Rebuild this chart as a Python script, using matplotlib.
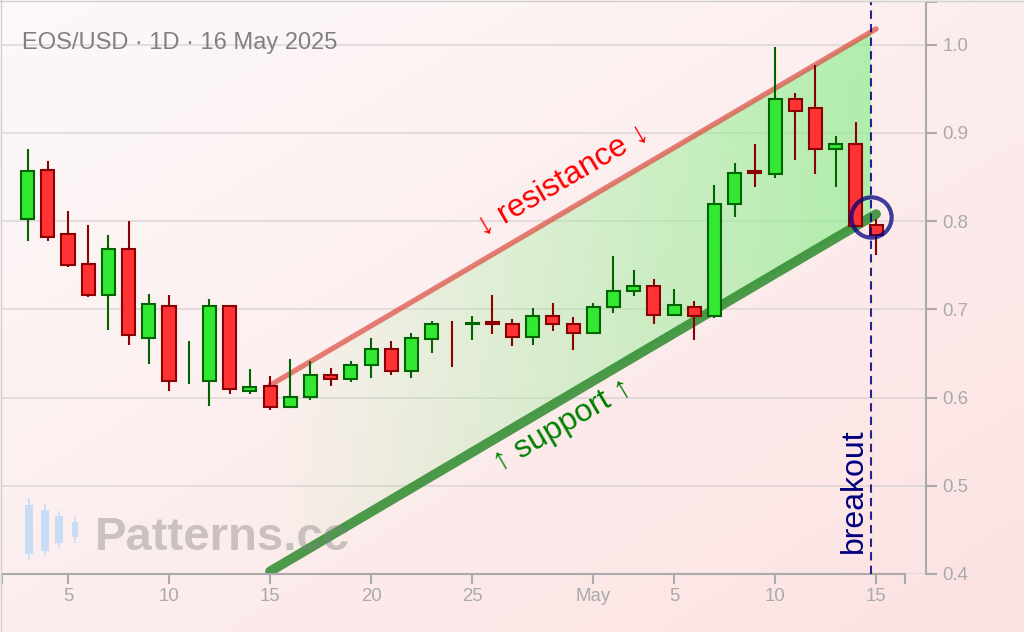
import numpy as np
import pandas as pd
import matplotlib
matplotlib.use("Agg")
import matplotlib.pyplot as plt
import matplotlib.dates as mdates
from matplotlib.patches import Polygon
from matplotlib.ticker import FuncFormatter

W, H, DPI = 1024, 632, 100
FONT = ["Liberation Sans", "DejaVu Sans"]
plt.rcParams["font.family"] = FONT

# daily EOS/USD candles, 3 Apr - 15 May 2025
dates = pd.date_range("2025-04-03", "2025-05-15", freq="D")
opens = [0.803, 0.858, 0.785, 0.751, 0.716, 0.769, 0.668, 0.704, 0.640, 0.619,
         0.704, 0.607, 0.613, 0.589, 0.601, 0.626, 0.621, 0.637, 0.655, 0.630,
         0.666, 0.660, 0.683, 0.686, 0.683, 0.669, 0.692, 0.683, 0.673, 0.703,
         0.721, 0.726, 0.694, 0.703, 0.692, 0.819, 0.857, 0.854, 0.939, 0.928,
         0.882, 0.887, 0.796]
highs = [0.882, 0.868, 0.812, 0.796, 0.784, 0.800, 0.718, 0.716, 0.664, 0.712,
         0.705, 0.632, 0.625, 0.644, 0.641, 0.634, 0.641, 0.668, 0.664, 0.673,
         0.687, 0.687, 0.693, 0.716, 0.689, 0.702, 0.707, 0.691, 0.707, 0.761,
         0.745, 0.734, 0.723, 0.710, 0.841, 0.866, 0.888, 0.997, 0.945, 0.977,
         0.897, 0.913, 0.803]
lows = [0.778, 0.778, 0.748, 0.714, 0.677, 0.660, 0.638, 0.608, 0.615, 0.590,
        0.604, 0.604, 0.586, 0.588, 0.597, 0.613, 0.618, 0.622, 0.626, 0.622,
        0.651, 0.635, 0.665, 0.672, 0.658, 0.660, 0.676, 0.654, 0.672, 0.696,
        0.715, 0.683, 0.692, 0.665, 0.690, 0.805, 0.839, 0.849, 0.869, 0.853,
        0.839, 0.794, 0.762]
closes = [0.857, 0.782, 0.750, 0.716, 0.769, 0.671, 0.706, 0.619, 0.6402, 0.704,
          0.610, 0.612, 0.589, 0.601, 0.626, 0.621, 0.637, 0.655, 0.630, 0.667,
          0.683, 0.6598, 0.685, 0.684, 0.669, 0.692, 0.683, 0.673, 0.703, 0.721,
          0.726, 0.694, 0.705, 0.692, 0.819, 0.855, 0.855, 0.939, 0.925, 0.882,
          0.887, 0.795, 0.784]

channel_dates = ["2025-04-15", "2025-05-15"]
resistance = [0.614, 1.018]
support = [0.403, 0.808]
breakout_date = "2025-05-14 18:00"

title = "EOS/USD · 1D · 16 May 2025"
yticks = [0.4, 0.5, 0.6, 0.7, 0.8, 0.9, 1.0]

# watermark logo candles (figure pixels): x, body top, body bottom, wick top, wick bottom, width
logo = [(29, 505, 554, 498, 560, 8), (45, 510, 551, 504, 556, 8),
        (59, 516, 543, 511, 548, 8), (75, 522, 537, 516, 543, 6)]

fig = plt.figure(figsize=(W / DPI, H / DPI), dpi=DPI)

# pink diagonal background
bg = fig.add_axes([0, 0, 1, 1], zorder=0)
gx, gy = np.meshgrid(np.linspace(0, 1, 128), np.linspace(0, 1, 128))
t = (gx + gy) / 2
c0 = np.array([253, 249, 249]) / 255
c1 = np.array([252, 226, 226]) / 255
bg.imshow(c0 + t[..., None] * (c1 - c0), extent=(0, 1, 0, 1), aspect="auto", origin="upper")
bg.axis("off")

ax = fig.add_axes([2 / W, 58 / H, 924 / W, 572 / H], zorder=1)
ax.patch.set_alpha(0)

x = mdates.date2num(dates)
base = mdates.date2num(pd.Timestamp("2025-04-01"))
ch_x = mdates.date2num(pd.to_datetime(channel_dates))
bx = mdates.date2num(pd.Timestamp(breakout_date))
o, h, l, c = map(np.asarray, (opens, highs, lows, closes))

# gradient channel fill, clipped to the channel
sup_b = np.interp(bx, ch_x, support)
res_b = np.interp(bx, ch_x, resistance)
poly = Polygon([(ch_x[0], support[0]), (bx, sup_b), (bx, res_b), (ch_x[0], resistance[0])],
               closed=True, transform=ax.transData, facecolor="none", edgecolor="none")
ax.add_patch(poly)
grad = np.zeros((2, 256, 4))
grad[..., :3] = np.array([144, 238, 144]) / 255
grad[..., 3] = np.linspace(0.0, 0.7, 256)
im = ax.imshow(grad, extent=(ch_x[0], bx, 0.4, 1.05), aspect="auto", origin="lower",
               interpolation="bilinear", zorder=1.5)
im.set_clip_path(poly)

ax.plot(ch_x, resistance, color="#dc3c32", alpha=0.65, lw=3.8, solid_capstyle="round", zorder=2)
ax.plot(ch_x, support, color="#2e8b2e", alpha=0.85, lw=7, solid_capstyle="round", zorder=2)

# candles
up = c >= o
edge = np.where(up, "#006400", "#8b0000")
face = np.where(up, "#33e833", "#ff3333")
ax.vlines(x, l, h, colors=edge, lw=1.5, zorder=3)
has_body = np.abs(c - o) > 0.0005
ax.bar(x[has_body], np.abs(c - o)[has_body], bottom=np.minimum(o, c)[has_body], width=0.65,
       color=face[has_body], edgecolor=edge[has_body], linewidth=1.5, zorder=3.1)

# breakout marker
ax.axvline(bx, color="navy", alpha=0.85, lw=1.5, ls=(0, (4, 2.5)), zorder=4, clip_on=False)
ax.plot(bx, sup_b, "o", ms=29, mfc="none", mec="navy", mew=3, alpha=0.75, zorder=5)

ax.set_xlim(base + 0.73, base + 46.47)
ax.set_ylim(0.4, 1.0485)

# channel labels along the lines
p = ax.transData.transform(np.column_stack([ch_x, resistance]))
ang = np.degrees(np.arctan2(p[1, 1] - p[0, 1], p[1, 0] - p[0, 0]))
xm = ch_x[0] + 14.5
ax.annotate("↓ resistance ↓", xy=(xm, np.interp(xm, ch_x, resistance)), xytext=(0, 33),
            textcoords="offset pixels", rotation=ang, rotation_mode="anchor",
            ha="center", va="center", color="red", fontsize=23, zorder=6)
ax.annotate("↑ support ↑", xy=(xm, np.interp(xm, ch_x, support)), xytext=(0, -27),
            textcoords="offset pixels", rotation=ang, rotation_mode="anchor",
            ha="center", va="center", color="green", fontsize=23, zorder=6)
ax.annotate("breakout", xy=(bx, 0.4), xytext=(-2, 21), textcoords="offset pixels",
            rotation=90, ha="right", va="bottom", color="navy", fontsize=23, zorder=6)

# axes styling
for s in ("top", "left"):
    ax.spines[s].set_visible(False)
for s in ("bottom", "right"):
    ax.spines[s].set_color("#aaaaaa")
    ax.spines[s].set_linewidth(1.5)
ax.spines["bottom"].set_bounds(base + 0.73, base + 45.43)
ax.yaxis.tick_right()
ax.set_yticks(yticks)
ax.set_yticks([1.0485], minor=True)
ax.yaxis.set_major_formatter(FuncFormatter(lambda v, _: f"{v:.1f}"))
ax.xaxis.set_major_locator(mdates.DayLocator(bymonthday=[1, 5, 10, 15, 20, 25]))
ax.xaxis.set_major_formatter(FuncFormatter(
    lambda v, _: mdates.num2date(v).strftime("%b") if mdates.num2date(v).day == 1
    else str(mdates.num2date(v).day)))
ax.set_xticks([base + 0.73, base + 45.43], minor=True)
ax.tick_params(axis="y", which="both", direction="out", length=7.7, width=1.5,
               color="#aaaaaa", labelcolor="#aaaaaa", labelsize=13.4, pad=4.3)
ax.tick_params(axis="x", which="both", direction="out", length=7.2, width=1.5,
               color="#aaaaaa", labelcolor="#aaaaaa", labelsize=13.4, pad=3)
ax.yaxis.grid(True, color="#ddd6d6", lw=1.1)
ax.set_axisbelow(True)

# overlay in figure pixels: title, watermark, border
ov = fig.add_axes([0, 0, 1, 1], zorder=3)
ov.set_xlim(0, W)
ov.set_ylim(H, 0)
ov.axis("off")
ov.text(22, 49, title, fontsize=17, color="#808080", va="baseline", ha="left")
logo_color = "#c9dcf6"
for lx, bt, bb, wt, wb, lw_ in logo:
    ov.plot([lx, lx], [wt, wb], color=logo_color, lw=1.2, solid_capstyle="butt")
    ov.add_patch(plt.Rectangle((lx - lw_ / 2, bt), lw_, bb - bt, color=logo_color, lw=0))
ov.text(95, 550, "Patterns.cc", fontsize=34, fontweight="bold", color="gray", alpha=0.4,
        va="baseline", ha="left")
ov.plot([1, 1], [0, H], color="#d0d0d0", lw=1)
ov.plot([0, W], [1, 1], color="#d0d0d0", lw=1)

fig.savefig("out.png", dpi=DPI)
